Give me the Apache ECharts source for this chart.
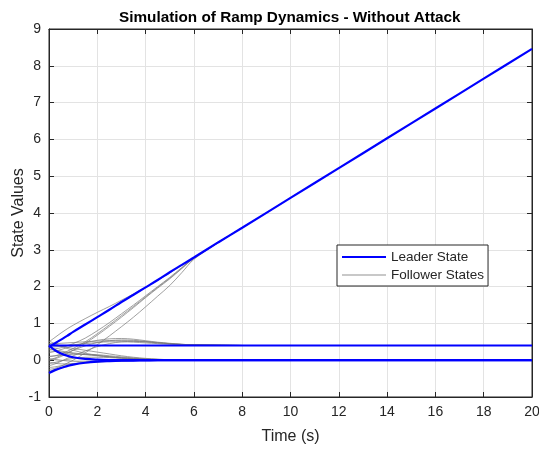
<!DOCTYPE html>
<html>
<head>
<meta charset="utf-8">
<script src="https://cdn.jsdelivr.net/npm/echarts@6/dist/echarts.min.js"></script>
<style>
html,body{margin:0;padding:0;background:#fff;}
#chart{width:539px;height:450px;}
</style>
</head>
<body>
<div id="chart"></div>
<script>
// ---- data ----
const xTicks = [0, 2, 4, 6, 8, 10, 12, 14, 16, 18, 20];
const yTicks = [-1, 0, 1, 2, 3, 4, 5, 6, 7, 8, 9];

const leaderTimes = [0, 0.25, 0.5, 0.75, 1, 1.5, 2, 2.5, 3, 3.5, 4, 4.5, 5, 5.5, 6, 7, 8, 10, 12, 14, 16, 18, 20];
const leaderRamp   = [0.36, 0.46, 0.56, 0.66, 0.77, 0.97, 1.17, 1.37, 1.58, 1.78, 1.98, 2.18, 2.39, 2.59, 2.79, 3.20, 3.60, 4.41, 5.22, 6.03, 6.84, 7.65, 8.46];
const leaderConst  = [0.4, 0.4, 0.4, 0.4, 0.4, 0.4, 0.4, 0.4, 0.4, 0.4, 0.4, 0.4, 0.4, 0.4, 0.4, 0.4, 0.4, 0.4, 0.4, 0.4, 0.4, 0.4, 0.4];
const leaderDecay  = [0.4, 0.27, 0.18, 0.12, 0.08, 0.035, 0.015, 0.005, 0.0, 0.0, 0.0, 0.0, 0.0, 0.0, 0.0, 0.0, 0.0, 0.0, 0.0, 0.0, 0.0, 0.0, 0.0];
const leaderRise   = [-0.35, -0.27, -0.21, -0.16, -0.12, -0.07, -0.04, -0.025, -0.015, -0.01, -0.005, 0.0, 0.0, 0.0, 0.0, 0.0, 0.0, 0.0, 0.0, 0.0, 0.0, 0.0, 0.0];

const followerTimes = [0, 0.25, 0.5, 0.75, 1, 1.5, 2, 2.5, 3, 3.5, 4, 4.5, 5, 5.5, 6, 7, 8];
// followers tracking the ramp
const fRamp1 = [0.50, 0.62, 0.74, 0.85, 0.95, 1.13, 1.30, 1.46, 1.63, 1.80, 1.98, 2.17, 2.37, 2.58, 2.78, 3.19, 3.60];
const fRamp2 = [0.00, 0.04, 0.10, 0.18, 0.27, 0.46, 0.68, 0.92, 1.17, 1.43, 1.70, 1.96, 2.21, 2.49, 2.77, 3.20, 3.60];
const fRamp3 = [-0.25, -0.22, -0.16, -0.08, 0.00, 0.20, 0.42, 0.66, 0.91, 1.17, 1.45, 1.74, 2.03, 2.38, 2.74, 3.19, 3.60];
const fRamp4 = [0.30, 0.31, 0.34, 0.39, 0.45, 0.60, 0.80, 1.02, 1.26, 1.50, 1.75, 2.00, 2.25, 2.52, 2.78, 3.20, 3.60];
const fRamp5 = [0.10, 0.12, 0.17, 0.24, 0.32, 0.50, 0.72, 0.96, 1.21, 1.46, 1.72, 1.98, 2.23, 2.50, 2.78, 3.20, 3.60];
// followers tracking the constant 0.4
const fConst1 = [0.20, 0.24, 0.29, 0.34, 0.39, 0.47, 0.54, 0.58, 0.59, 0.57, 0.53, 0.49, 0.46, 0.43, 0.42, 0.41, 0.40];
const fConst2 = [0.00, 0.06, 0.13, 0.20, 0.27, 0.39, 0.48, 0.53, 0.55, 0.54, 0.51, 0.48, 0.45, 0.43, 0.42, 0.41, 0.40];
const fConst3 = [0.45, 0.45, 0.46, 0.47, 0.48, 0.50, 0.52, 0.53, 0.53, 0.52, 0.50, 0.47, 0.45, 0.43, 0.42, 0.41, 0.40];
const fConst4 = [-0.15, -0.10, -0.03, 0.05, 0.12, 0.25, 0.37, 0.45, 0.50, 0.51, 0.50, 0.47, 0.45, 0.43, 0.42, 0.41, 0.40];
const fConst5 = [0.35, 0.36, 0.38, 0.40, 0.42, 0.45, 0.48, 0.50, 0.50, 0.49, 0.47, 0.45, 0.43, 0.42, 0.41, 0.40, 0.40];
// followers tracking zero
const fZero1 = [0.45, 0.42, 0.38, 0.35, 0.32, 0.27, 0.22, 0.17, 0.12, 0.08, 0.05, 0.03, 0.01, 0.00, 0.00, 0.00, 0.00];
const fZero2 = [-0.30, -0.25, -0.20, -0.16, -0.12, -0.06, -0.03, -0.01, 0.00, 0.00, 0.00, 0.00, 0.00, 0.00, 0.00, 0.00, 0.00];
const fZero3 = [0.25, 0.24, 0.22, 0.20, 0.18, 0.15, 0.12, 0.09, 0.06, 0.04, 0.02, 0.01, 0.00, 0.00, 0.00, 0.00, 0.00];
const fZero4 = [-0.10, -0.06, -0.02, 0.02, 0.05, 0.08, 0.08, 0.07, 0.05, 0.03, 0.02, 0.01, 0.00, 0.00, 0.00, 0.00, 0.00];
const fZero5 = [0.10, 0.12, 0.14, 0.15, 0.16, 0.16, 0.15, 0.12, 0.09, 0.06, 0.04, 0.02, 0.01, 0.00, 0.00, 0.00, 0.00];
const fZero6 = [0.30, 0.28, 0.25, 0.22, 0.20, 0.16, 0.13, 0.10, 0.07, 0.05, 0.03, 0.02, 0.01, 0.00, 0.00, 0.00, 0.00];
const fZero7 = [-0.20, -0.18, -0.15, -0.12, -0.10, -0.06, -0.04, -0.02, -0.01, 0.00, 0.00, 0.00, 0.00, 0.00, 0.00, 0.00, 0.00];
const fZero8 = [0.05, 0.02, 0.00, -0.02, -0.03, -0.04, -0.04, -0.03, -0.02, -0.01, 0.00, 0.00, 0.00, 0.00, 0.00, 0.00, 0.00];
const fZero9 = [0.52, 0.45, 0.38, 0.32, 0.27, 0.19, 0.13, 0.09, 0.06, 0.04, 0.02, 0.01, 0.00, 0.00, 0.00, 0.00, 0.00];
const fZero10 = [-0.05, -0.08, -0.10, -0.10, -0.09, -0.07, -0.05, -0.03, -0.02, -0.01, 0.00, 0.00, 0.00, 0.00, 0.00, 0.00, 0.00];

const leaderSeries = [leaderRamp, leaderConst, leaderDecay, leaderRise];
const followerSeries = [fRamp1, fRamp2, fRamp3, fRamp4, fRamp5,
  fConst1, fConst2, fConst3, fConst4, fConst5,
  fZero1, fZero2, fZero3, fZero4, fZero5, fZero6, fZero7, fZero8, fZero9, fZero10];

// ---- chart ----
const FONT = '"Liberation Sans", Arial, Helvetica, sans-serif';
const TXT = '#262626';
const pair = (t, v) => t.map((x, i) => [x, v[i]]);

const series = [];
followerSeries.forEach(v => series.push({
  name: 'Follower States', type: 'line', data: pair(followerTimes, v),
  showSymbol: false, symbol: 'none', smooth: 0.35, z: 2,
  lineStyle: { color: 'rgba(120,120,120,0.7)', width: 1 },
  itemStyle: { color: '#c8c8c8' }, emphasis: { disabled: true }, silent: true
}));
leaderSeries.forEach(v => series.push({
  name: 'Leader State', type: 'line', data: pair(leaderTimes, v),
  showSymbol: false, symbol: 'none', smooth: 0.35, z: 3,
  lineStyle: { color: '#0000ff', width: 2.2 },
  itemStyle: { color: '#0000ff' }, emphasis: { disabled: true }, silent: true
}));

const axisCommon = {
  axisLine: { show: true, onZero: false, lineStyle: { color: '#262626' } },
  axisTick: { show: true, inside: true, length: 5, lineStyle: { color: '#262626' } }
};

const chart = echarts.init(document.getElementById('chart'), null, { renderer: 'canvas' });
chart.setOption({
  animation: false,
  backgroundColor: '#ffffff',
  title: {
    text: 'Simulation of Ramp Dynamics - Without Attack',
    left: 114, top: 5,
    textStyle: { fontFamily: FONT, fontSize: 15.3, fontWeight: 'bold', color: '#000' }
  },
  legend: {
    data: [
      { name: 'Leader State', icon: 'rect', itemStyle: { color: '#0000ff' } },
      { name: 'Follower States', icon: 'rect', itemStyle: { color: '#c8c8c8' } }
    ],
    orient: 'vertical', left: 337, top: 245,
    itemWidth: 44, itemHeight: 2, itemGap: 4,
    padding: [5, 4, 4, 5],
    backgroundColor: '#fff', borderColor: '#262626', borderWidth: 1,
    textStyle: { fontFamily: FONT, fontSize: 13.5, color: TXT },
    selectedMode: false
  },
  grid: { left: 49, right: 7, top: 29, bottom: 53, outerBoundsMode: 'none',
    show: true, borderColor: '#262626', borderWidth: 1 },
  xAxis: [Object.assign({
    type: 'value', min: 0, max: 20, interval: 2, position: 'bottom',
    name: 'Time (s)', nameLocation: 'middle', nameGap: 32, nameMoveOverlap: false,
    nameTextStyle: { fontFamily: FONT, fontSize: 16, color: TXT },
    axisLabel: { fontFamily: FONT, fontSize: 14, color: TXT, margin: 8, hideOverlap: false,
      formatter: v => xTicks.includes(v) ? String(v) : '' },
    splitLine: { show: true, lineStyle: { color: '#e3e3e3', width: 1 } }
  }, axisCommon), Object.assign({
    type: 'value', min: 0, max: 20, interval: 2, position: 'top',
    axisLabel: { show: false }, splitLine: { show: false }
  }, axisCommon)],
  yAxis: [Object.assign({
    type: 'value', min: -1, max: 9, interval: 1, position: 'left',
    name: 'State Values', nameLocation: 'middle', nameGap: 22, nameMoveOverlap: false,
    nameTextStyle: { fontFamily: FONT, fontSize: 16, color: TXT },
    axisLabel: { fontFamily: FONT, fontSize: 14, color: TXT, margin: 8, hideOverlap: false,
      formatter: v => yTicks.includes(v) ? String(v) : '' },
    splitLine: { show: true, lineStyle: { color: '#e3e3e3', width: 1 } }
  }, axisCommon), Object.assign({
    type: 'value', min: -1, max: 9, interval: 1, position: 'right',
    axisLabel: { show: false }, splitLine: { show: false }
  }, axisCommon)],
  series: series
});
</script>
</body>
</html>
